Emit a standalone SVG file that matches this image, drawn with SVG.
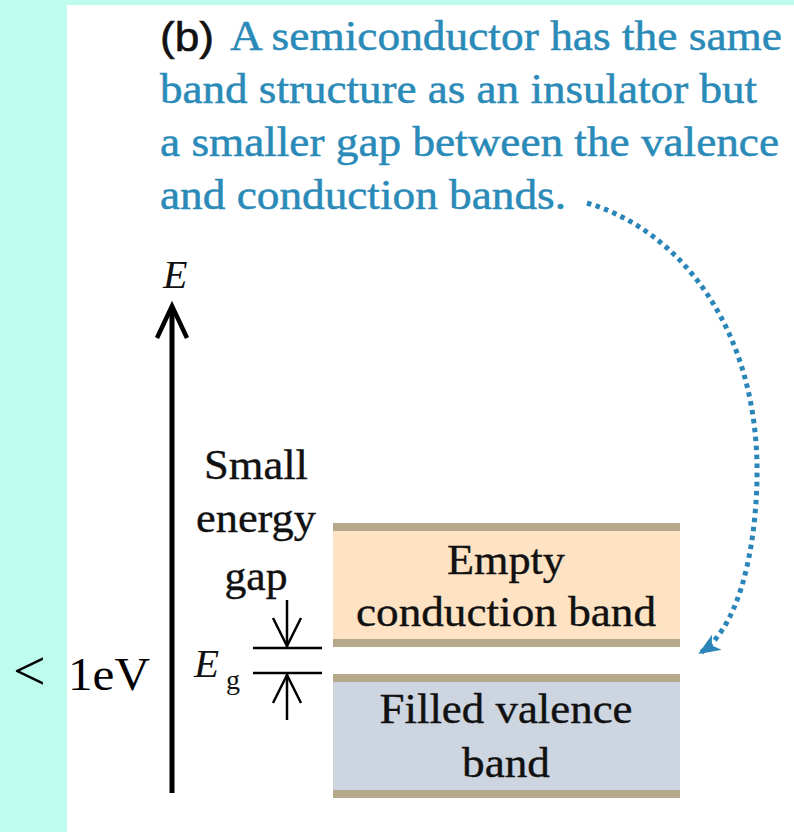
<svg xmlns="http://www.w3.org/2000/svg" width="794" height="832" viewBox="0 0 794 832">
  <defs>
    <style>
      .cap { font-size: 42px; fill: #2a8ab8; stroke: #2a8ab8; stroke-width: 0.5px; }
      .lbl { font-size: 43px; fill: #111; stroke: #111; stroke-width: 0.4px; text-anchor: middle; }
      .ital { font-style: italic; fill: #111; }
      .strip { fill: #b6a88a; }
      .blk { stroke: #000; fill: none; }
    </style>
    <marker id="dotHead" viewBox="0 0 22 18" refX="20" refY="9" markerWidth="22" markerHeight="18" markerUnits="userSpaceOnUse" orient="auto">
      <path d="M0,0 L22,9 L0,18 L6,9 Z" fill="#2a86b8"/>
    </marker>
  </defs>

  <rect x="0" y="0" width="794" height="832" fill="#befcee"/>
  <rect x="67" y="5" width="727" height="827" fill="#ffffff"/>

  <g id="caption" font-family="Liberation Serif, Times New Roman, serif">
    <text x="160" y="51" font-family="Liberation Sans, Arial, sans-serif" font-size="41" fill="#111" stroke="#111" stroke-width="0.6" textLength="54" lengthAdjust="spacingAndGlyphs">(b)</text>
    <text class="cap" x="230" y="50" textLength="552" lengthAdjust="spacingAndGlyphs">A semiconductor has the same</text>
    <text class="cap" x="160" y="103" textLength="597" lengthAdjust="spacingAndGlyphs">band structure as an insulator but</text>
    <text class="cap" x="160" y="156" textLength="619" lengthAdjust="spacingAndGlyphs">a smaller gap between the valence</text>
    <text class="cap" x="160" y="209" textLength="406" lengthAdjust="spacingAndGlyphs">and conduction bands.</text>
  </g>

  <g id="energy-axis" font-family="Liberation Serif, Times New Roman, serif">
    <line class="blk" x1="172" y1="308" x2="172" y2="793" stroke-width="5"/>
    <polyline class="blk" points="157,338 172,306 187,338" stroke-width="4.5"/>
    <text class="ital" x="163" y="288" font-size="40">E</text>
  </g>

  <g id="gap-label" font-family="Liberation Serif, Times New Roman, serif">
    <text class="lbl" x="256" y="479" textLength="104" lengthAdjust="spacingAndGlyphs">Small</text>
    <text class="lbl" x="256" y="532" textLength="120" lengthAdjust="spacingAndGlyphs">energy</text>
    <text class="lbl" x="256" y="590" textLength="63" lengthAdjust="spacingAndGlyphs">gap</text>
  </g>

  <g id="eg-marker" font-family="Liberation Serif, Times New Roman, serif">
    <line class="blk" x1="253" y1="648" x2="322" y2="648" stroke-width="2.5"/>
    <line class="blk" x1="253" y1="673" x2="322" y2="673" stroke-width="2.5"/>
    <line class="blk" x1="287" y1="600" x2="287" y2="647" stroke-width="2.5"/>
    <polyline class="blk" points="273,618 287,646 301,618" stroke-width="2.5"/>
    <line class="blk" x1="287" y1="674" x2="287" y2="720" stroke-width="2.5"/>
    <polyline class="blk" points="273,703 287,675 301,703" stroke-width="2.5"/>
    <text class="ital" x="194" y="677" font-size="41">E</text>
    <text x="226" y="689" font-size="28" fill="#111">g</text>
  </g>

  <g id="ev-label" font-family="Liberation Serif, Times New Roman, serif">
    <text x="13" y="690" font-size="58" fill="#000">&lt;</text>
    <text x="68" y="690" font-size="46" fill="#000" textLength="82" lengthAdjust="spacingAndGlyphs">1eV</text>
  </g>

  <g id="conduction-band" font-family="Liberation Serif, Times New Roman, serif">
    <rect x="333" y="527" width="347" height="116" fill="#fde3c3"/>
    <rect class="strip" x="333" y="523" width="347" height="8"/>
    <rect class="strip" x="333" y="639" width="347" height="8"/>
    <text class="lbl" x="506" y="574" textLength="118" lengthAdjust="spacingAndGlyphs">Empty</text>
    <text class="lbl" x="506" y="626" textLength="300" lengthAdjust="spacingAndGlyphs">conduction band</text>
  </g>

  <g id="valence-band" font-family="Liberation Serif, Times New Roman, serif">
    <rect x="333" y="678" width="347" height="116" fill="#cdd5e1"/>
    <rect class="strip" x="333" y="674" width="347" height="8"/>
    <rect class="strip" x="333" y="790" width="347" height="8"/>
    <text class="lbl" x="506" y="723" textLength="253" lengthAdjust="spacingAndGlyphs">Filled valence</text>
    <text class="lbl" x="506" y="777" textLength="88" lengthAdjust="spacingAndGlyphs">band</text>
  </g>

  <g id="connectors">
    <path d="M587,203 C680,230 760,330 757,480 C755,560 736,630 700,653" fill="none" stroke="#2a86b8" stroke-width="5" stroke-dasharray="4.5 4.5" marker-end="url(#dotHead)"/>
  </g>
</svg>
